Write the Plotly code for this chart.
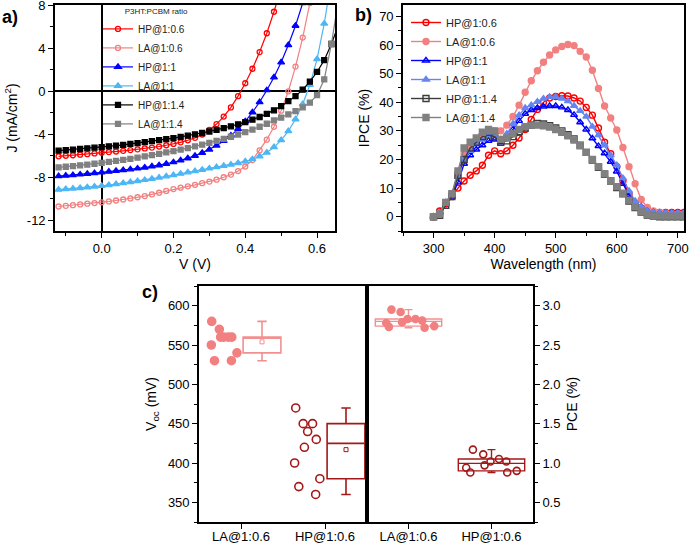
import numpy as np
import plotly.graph_objects as go

# ---------------- data: panel a (J-V) ----------------
V = [-0.12, -0.10, -0.08, -0.06, -0.04, -0.02, 0.00, 0.02, 0.04, 0.06,
     0.08, 0.10, 0.12, 0.14, 0.16, 0.18, 0.20, 0.22, 0.24, 0.26,
     0.28, 0.30, 0.32, 0.34, 0.36, 0.38, 0.40, 0.42, 0.44, 0.46,
     0.48, 0.50, 0.52, 0.54, 0.56, 0.58, 0.60, 0.62, 0.64, 0.66]
J_HP06 = [-6.05, -6.0, -5.95, -5.9, -5.85, -5.78, -5.72, -5.66, -5.6, -5.54,
          -5.47, -5.4, -5.32, -5.24, -5.14, -5.02, -4.9, -4.75, -4.56, -4.33,
          -4.02, -3.6, -3.05, -2.35, -1.5, -0.45, 0.75, 2.1, 3.65, 5.4,
          7.4, 9.6, None, None, None, None, None, None, None, None]
J_LA06 = [-10.72, -10.66, -10.6, -10.53, -10.46, -10.4, -10.33, -10.25, -10.16, -10.07,
          -9.97, -9.86, -9.75, -9.6, -9.44, -9.27, -9.1, -8.97, -8.84, -8.7,
          -8.55, -8.4, -8.22, -8.0, -7.75, -7.42, -7.0, -6.4, -5.5, -4.5,
          -3.3, -1.8, 0.0, 2.3, 5.0, 8.2, None, None, None, None]
J_HP11 = [-7.9, -7.85, -7.8, -7.74, -7.68, -7.62, -7.55, -7.48, -7.41, -7.34,
          -7.26, -7.18, -7.09, -6.99, -6.88, -6.75, -6.6, -6.43, -6.23, -6.0,
          -5.73, -5.42, -5.05, -4.62, -4.12, -3.5, -2.8, -1.95, -1.0, 0.1,
          1.3, 2.7, 4.3, 6.1, 8.2, None, None, None, None, None]
J_LA11 = [-9.15, -9.1, -9.05, -9.0, -8.93, -8.87, -8.8, -8.72, -8.63, -8.54,
          -8.45, -8.35, -8.25, -8.14, -8.03, -7.91, -7.8, -7.67, -7.54, -7.42,
          -7.3, -7.18, -7.06, -6.94, -6.82, -6.68, -6.52, -6.32, -6.05, -5.7,
          -5.2, -4.55, -3.7, -2.6, -1.2, 0.6, 3.0, 6.3, 10.4, None]
J_HP14 = [-5.52, -5.47, -5.42, -5.37, -5.31, -5.25, -5.19, -5.12, -5.05, -4.98,
          -4.9, -4.82, -4.73, -4.64, -4.55, -4.45, -4.35, -4.24, -4.13, -4.01,
          -3.88, -3.74, -3.59, -3.43, -3.26, -3.07, -2.87, -2.64, -2.39, -2.1,
          -1.77, -1.38, -0.92, -0.45, 0.15, 0.9, 1.8, 2.9, 4.4, 6.2]
J_LA14 = [-7.08, -7.02, -6.96, -6.89, -6.82, -6.74, -6.66, -6.57, -6.48, -6.38,
          -6.28, -6.17, -6.06, -5.94, -5.82, -5.69, -5.56, -5.42, -5.28, -5.13,
          -4.97, -4.8, -4.62, -4.43, -4.23, -4.02, -3.8, -3.56, -3.3, -3.02,
          -2.71, -2.45, -2.15, -1.85, -1.5, -1.05, -0.35, 1.1, 4.4, 8.6]
J_TICKS = [-12, -8, -4, 0, 4, 8]

# ---------------- data: panel b (IPCE) ----------------
WL = [300, 310, 320, 330, 340, 350, 360, 370, 380, 390,
      400, 410, 420, 430, 440, 450, 460, 470, 480, 490,
      500, 510, 520, 530, 540, 550, 560, 570, 580, 590,
      600, 610, 620, 630, 640, 650, 660, 670, 680, 690, 700, 710]
IPCE_HP06 = [0, 2, 4.5, 7, 10, 12.5, 14.5, 16, 18, 21.5,
             23, 22, 23, 25, 27.5, 30.5, 34, 37.5, 40, 41.5,
             42, 42.3, 42.2, 41.5, 40.4, 38.2, 35.5, 31, 26, 22,
             17.5, 12.5, 8, 4.5, 3, 2, 1.5, 1.5, 1.5, 1.5, 1.5, 1.5]
IPCE_LA06 = [0, 1, 5, 8, 15, 22, 24, 26, 28, 30,
             30, 30, 32, 35, 39, 43.5, 47.5, 51, 54, 56.5,
             58.3, 59.5, 60.2, 59.8, 57.8, 55.8, 51.2, 44.8, 38.7, 34.5,
             30.3, 24.2, 17.5, 11.5, 6, 3.2, 2, 1.5, 1.2, 1, 1, 1]
IPCE_HP11 = [0, 1.5, 4.5, 7, 12, 18.5, 21.5, 23.5, 25, 26.5,
             27, 26, 27.5, 30.5, 33.5, 36, 37.3, 38, 38.5, 38.7,
             38.7, 38.2, 37.3, 35.6, 33, 30.5, 27.4, 24.7, 22.2, 19.2,
             15.8, 11.5, 7.5, 5, 3.5, 2, 1.5, 1.3, 1.3, 1.3, 1.3, 1.3]
IPCE_LA11 = [0, 1.5, 5, 8, 14, 20, 23, 25.5, 27, 28.5,
             28.5, 27, 29, 32.5, 35.5, 38, 39, 40.2, 41.3, 41.9,
             41.9, 41.3, 40.4, 38.8, 37, 35, 31.5, 28.5, 25, 21.5,
             18, 13.5, 9, 5.5, 3.5, 2, 1.5, 1.3, 1.3, 1.3, 1.3, 1.3]
IPCE_HP14 = [0, 0.5, 4, 7, 14.5, 20, 24, 26, 28, 28.5,
             28, 26, 26.5, 28, 29.7, 31, 32, 32.6, 32.4, 31.8,
             31, 30, 28.7, 27.2, 25, 22.5, 19.8, 17.3, 14.8, 12.5,
             10.2, 8, 5.5, 3.2, 1.6, 0.6, 0.2, 0, 0, 0, 0, 0]
IPCE_LA14 = [0, 1, 5, 8, 16, 24, 26, 27.5, 29.5, 30.5,
             30, 27, 27.5, 29, 30.5, 31.5, 32, 32, 31.8, 31.3,
             30.5, 29.5, 28.3, 26.8, 24.8, 22.5, 20, 17.5, 15, 12.5,
             10.5, 8.2, 5.8, 3.5, 1.8, 0.8, 0.3, 0.2, 0.2, 0.2, 0.2, 0.2]

# ---------------- data: panel c (statistics) ----------------
CATS = ["LA@1:0.6", "HP@1:0.6"]
VOC_LA = [560, 580, 550, 530, 560, 540, 560, 530, 560, 570]
VOC_HP = [400, 450, 370, 430, 470, 380, 440, 450, 360, 420]
PCE_LA = [2.95, 2.72, 2.73, 2.78, 2.83, 2.92, 2.83, 2.79, 2.81, 2.74]
PCE_HP = [1.02, 0.88, 1.05, 0.94, 1.11, 0.97, 1.02, 0.90, 1.17, 0.88]

# ---------------- styles ----------------
FONT = "Arial, Liberation Sans, sans-serif"
RED = "#FF0000"
PINK = "#F28080"
BLUE = "#0000FF"
LBLUE = "#4DB6F5"
BLUE2 = "#6585F0"
BLACK = "#000000"
GRAY = "#808080"
DGRAY = "#3C3C3C"
C_PINK = "#F29090"
C_RED = "#A31818"

fig = go.Figure()

# panel a
jv = [("HP@1:0.6", J_HP06, RED, "circle-open", 5),
      ("LA@1:0.6", J_LA06, PINK, "circle-open", 5),
      ("HP@1:1", J_HP11, BLUE, "triangle-up", 6),
      ("LA@1:1", J_LA11, LBLUE, "triangle-up", 6),
      ("HP@1:1.4", J_HP14, BLACK, "square", 5),
      ("LA@1:1.4", J_LA14, GRAY, "square", 5)]
for name, J, col, sym, sz in jv:
    fig.add_trace(go.Scatter(x=V, y=J, name=name, mode="lines+markers",
                             line=dict(color=col, width=1.2),
                             marker=dict(symbol=sym, size=sz, color=col,
                                         line=dict(width=1.3, color=col)),
                             xaxis="x", yaxis="y", legend="legend"))

# panel b
ip = [("HP@1:0.6", IPCE_HP06, RED, "circle-open"),
      ("LA@1:0.6", IPCE_LA06, PINK, "circle"),
      ("HP@1:1", IPCE_HP11, BLUE, "triangle-up-open"),
      ("LA@1:1", IPCE_LA11, BLUE2, "triangle-up"),
      ("HP@1:1.4", IPCE_HP14, DGRAY, "square-open"),
      ("LA@1:1.4", IPCE_LA14, GRAY, "square")]
for name, Y, col, sym in ip:
    fig.add_trace(go.Scatter(x=WL, y=Y, name=name, mode="lines+markers",
                             line=dict(color=col, width=1.4),
                             marker=dict(symbol=sym, size=6, color=col,
                                         line=dict(width=1.4, color=col)),
                             xaxis="x2", yaxis="y2", legend="legend2"))

# panel c, Voc boxes (box shifted right of category, points to the left)
BOX_SHIFT = 0.25
BOX_W = 0.45
for i, (vals, col, pcol, sym) in enumerate([(VOC_LA, C_PINK, PINK, "circle"),
                                            (VOC_HP, C_RED, C_RED, "circle-open")]):
    fig.add_trace(go.Box(y=vals, x0=i + BOX_SHIFT, width=BOX_W, name=CATS[i],
                         boxpoints="all", jitter=0.9, pointpos=-2,
                         quartilemethod="exclusive", whiskerwidth=0.25,
                         fillcolor="rgba(0,0,0,0)", line=dict(color=col, width=1.6),
                         marker=dict(symbol=sym, size=8, color=pcol,
                                     line=dict(width=1.6, color=pcol)),
                         showlegend=False, xaxis="x3", yaxis="y3"))
    fig.add_trace(go.Scatter(x=[i + BOX_SHIFT], y=[float(np.mean(vals))], mode="markers",
                             marker=dict(symbol="square-open", size=4, color=col,
                                         line=dict(width=1)),
                             showlegend=False, xaxis="x3", yaxis="y3"))

# panel c, PCE boxes (points overlaid)
for i, (vals, col, pcol, sym) in enumerate([(PCE_LA, C_PINK, PINK, "circle"),
                                            (PCE_HP, C_RED, C_RED, "circle-open")]):
    fig.add_trace(go.Box(y=vals, x0=i, width=0.8, name=CATS[i],
                         boxpoints="all", jitter=1.0, pointpos=0,
                         quartilemethod="exclusive", whiskerwidth=0.12,
                         fillcolor="rgba(0,0,0,0)", line=dict(color=col, width=1.4),
                         marker=dict(symbol=sym, size=7, color=pcol,
                                     line=dict(width=1.6, color=pcol)),
                         showlegend=False, xaxis="x4", yaxis="y4"))

W, H = 689, 545
def px_x(p):
    return p / W
def px_y(p):
    return 1 - p / H

common = dict(showline=True, linecolor="black", linewidth=1.6, mirror=True,
              ticks="outside", ticklen=5, tickwidth=1.3, tickcolor="black",
              showgrid=False, ticklabeloverflow="allow", automargin=False,
              tickfont=dict(family=FONT, size=13, color="black"),
              title_font=dict(family=FONT, size=14, color="black"))

fig.update_layout(
    width=W, height=H, margin=dict(l=0, r=0, t=0, b=0, autoexpand=False),
    paper_bgcolor="white", plot_bgcolor="white",
    font=dict(family=FONT, color="black"),
    xaxis=dict(domain=[px_x(55), px_x(335)], anchor="y", range=[-0.13, 0.65],
               tick0=0, dtick=0.2, tickformat=".1f",
               minor=dict(dtick=0.1, ticks="outside", ticklen=3, tickcolor="black"),
               zeroline=True, zerolinecolor="black", zerolinewidth=1.6,
               title=dict(text="V (V)", standoff=4), **common),
    yaxis=dict(domain=[px_y(231), px_y(5)], anchor="x", range=[-13, 8.03],
               tickvals=J_TICKS, ticktext=[str(t) for t in J_TICKS],
               minor=dict(dtick=2, ticks="outside", ticklen=3, tickcolor="black"),
               zeroline=True, zerolinecolor="black", zerolinewidth=1.6,
               title=dict(text="J (mA/cm<sup>2</sup>)", standoff=6), **common),
    xaxis2=dict(domain=[px_x(403), px_x(684)], anchor="y2", range=[250, 710],
                tick0=0, dtick=100, zeroline=False,
                minor=dict(dtick=50, ticks="outside", ticklen=3, tickcolor="black"),
                title=dict(text="Wavelength (nm)", standoff=4), **common),
    yaxis2=dict(domain=[px_y(231), px_y(5)], anchor="x2", range=[-5, 74],
                tick0=0, dtick=10, zeroline=False,
                minor=dict(dtick=5, ticks="outside", ticklen=3, tickcolor="black"),
                title=dict(text="IPCE (%)", standoff=6), **common),
    xaxis3=dict(domain=[px_x(199), px_x(367)], anchor="y3", range=[-0.5, 1.5],
                tickvals=[0, 1], ticktext=CATS, zeroline=False, ticklabelstandoff=-3,
                **common),
    yaxis3=dict(domain=[px_y(522), px_y(286)], anchor="x3", range=[325, 625],
                tick0=0, dtick=50, zeroline=False,
                minor=dict(dtick=25, ticks="outside", ticklen=3, tickcolor="black"),
                title=dict(text="V<sub>oc</sub> (mV)", standoff=8), **common),
    xaxis4=dict(domain=[px_x(367), px_x(533)], anchor="y4", range=[-0.5, 1.5],
                tickvals=[0, 1], ticktext=CATS, zeroline=False, ticklabelstandoff=-3,
                **common),
    yaxis4=dict(domain=[px_y(522), px_y(286)], anchor="x4", range=[0.25, 3.25],
                side="right", tick0=0, dtick=0.5, tickformat=".1f", zeroline=False,
                minor=dict(dtick=0.25, ticks="outside", ticklen=3, tickcolor="black"),
                title=dict(text="PCE (%)", standoff=8), **common),
    legend=dict(x=px_x(98), y=px_y(4), xanchor="left", yanchor="top",
                bgcolor="rgba(0,0,0,0)", itemwidth=30,
                font=dict(family=FONT, size=10, color="#222"),
                title=dict(text="P3HT:PCBM ratio", side="top right",
                           font=dict(family=FONT, size=8, color="#222"))),
    legend2=dict(x=px_x(406), y=px_y(8), xanchor="left", yanchor="top",
                 bgcolor="rgba(0,0,0,0)", itemwidth=30,
                 font=dict(family=FONT, size=11, color="#222")),
    annotations=[
        dict(text="<b>a)</b>", x=px_x(0), y=px_y(17), xref="paper", yref="paper",
             xanchor="left", yanchor="middle", showarrow=False,
             font=dict(family=FONT, size=18, color="black")),
        dict(text="<b>b)</b>", x=px_x(353), y=px_y(15), xref="paper", yref="paper",
             xanchor="left", yanchor="middle", showarrow=False,
             font=dict(family=FONT, size=18, color="black")),
        dict(text="<b>c)</b>", x=px_x(140), y=px_y(292), xref="paper", yref="paper",
             xanchor="left", yanchor="middle", showarrow=False,
             font=dict(family=FONT, size=18, color="black")),
    ],
)

fig.write_html("out.html")
